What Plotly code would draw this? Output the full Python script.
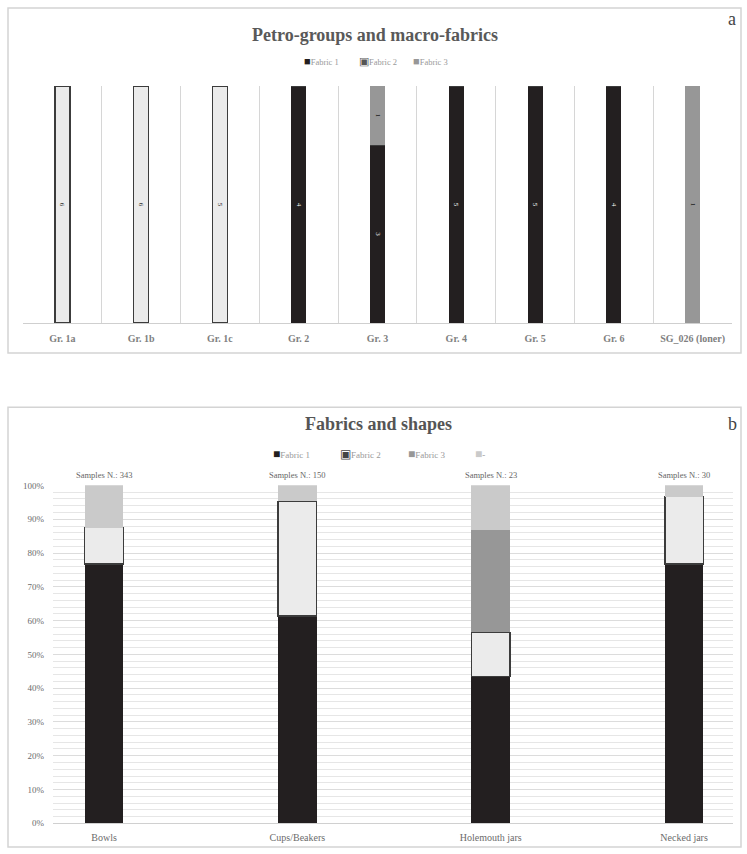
import plotly.graph_objects as go
from plotly.subplots import make_subplots

# ---------- Panel a data ----------
groups = ["Gr. 1a", "Gr. 1b", "Gr. 1c", "Gr. 2", "Gr. 3", "Gr. 4", "Gr. 5", "Gr. 6", "SG_026 (loner)"]
a_fabric1 = [0, 0, 0, 4, 3, 5, 5, 4, 0]
a_fabric2 = [6, 6, 5, 0, 0, 0, 0, 0, 0]
a_fabric3 = [0, 0, 0, 0, 1, 0, 0, 0, 1]

# ---------- Panel b data (percent) ----------
shapes_cat = ["Bowls", "Cups/Beakers", "Holemouth jars", "Necked jars"]
b_fabric1 = [76.7, 61.3, 43.5, 76.7]
b_fabric2 = [10.8, 34.0, 13.0, 20.0]
b_fabric3 = [0.0, 0.0, 30.4, 0.0]
b_none = [12.5, 4.7, 13.1, 3.3]
samples_n = [343, 150, 23, 30]
y_ticks = [0, 0.1, 0.2, 0.3, 0.4, 0.5, 0.6, 0.7, 0.8, 0.9, 1.0]

C1 = "#231f20"
C2 = "#ebebeb"
C2_LINE = "#3c3c3c"
C3 = "#979797"
CN = "#cacaca"
SERIF = "Liberation Serif"
GREY_TXT = "#6b6b6b"

W, H = 747, 854
fig = make_subplots(rows=2, cols=1)

xa = list(range(len(groups)))

def txt(vals):
    return [str(v) if v else "" for v in vals]

fig.add_trace(go.Bar(x=xa, y=a_fabric1, name="Fabric 1", marker=dict(color=C1, line=dict(width=0)),
                     text=txt(a_fabric1), texttemplate="%{text}", textposition="inside", insidetextanchor="middle",
                     textangle=90, textfont=dict(size=7, color="white", family=SERIF),
                     width=0.19), row=1, col=1)
fig.add_trace(go.Bar(x=xa, y=a_fabric2, name="Fabric 2", marker=dict(color=C2, line=dict(width=1.5, color=C2_LINE)),
                     text=txt(a_fabric2), texttemplate="%{text}", textposition="inside", insidetextanchor="middle",
                     textangle=90, textfont=dict(size=7, color="#222", family=SERIF),
                     width=0.19), row=1, col=1)
fig.add_trace(go.Bar(x=xa, y=a_fabric3, name="Fabric 3", marker=dict(color=C3, line=dict(width=0)),
                     text=txt(a_fabric3), texttemplate="%{text}", textposition="inside", insidetextanchor="middle",
                     textangle=90, textfont=dict(size=7, color="#222", family=SERIF),
                     width=0.19), row=1, col=1)

xb = list(range(len(shapes_cat)))
fig.add_trace(go.Bar(x=xb, y=b_fabric1, name="Fabric 1", marker=dict(color=C1, line=dict(width=0)),
                     width=0.2), row=2, col=1)
fig.add_trace(go.Bar(x=xb, y=b_fabric2, name="Fabric 2", marker=dict(color=C2, line=dict(width=1.5, color=C2_LINE)),
                     width=0.2), row=2, col=1)
fig.add_trace(go.Bar(x=xb, y=b_fabric3, name="Fabric 3", marker=dict(color=C3, line=dict(width=0)),
                     width=0.2), row=2, col=1)
fig.add_trace(go.Bar(x=xb, y=b_none, name="-", marker=dict(color=CN, line=dict(width=0)),
                     width=0.2), row=2, col=1)

def px_x(p):
    return p / W

def px_y(p):
    return 1 - p / H

fig.update_layout(
    width=W, height=H, barmode="stack", barnorm="fraction", showlegend=False,
    margin=dict(l=0, r=0, t=0, b=0),
    paper_bgcolor="white", plot_bgcolor="white",
    font=dict(family=SERIF, color=GREY_TXT),
    xaxis=dict(domain=[px_x(23), px_x(732)], range=[-0.5, len(groups) - 0.5],
               tickmode="array", tickvals=xa, ticktext=groups, showgrid=False,
               tickfont=dict(size=10, color="#808080", family=SERIF, weight="bold"),
               showline=True, linecolor="#cfcfcf", linewidth=1, ticks="", ticklabelstandoff=6,
               minor=dict(tickmode="linear", tick0=-0.5, dtick=1, showgrid=True, gridcolor="#d6d6d6", gridwidth=1),
               zeroline=False),
    yaxis=dict(domain=[px_y(322), px_y(82)], range=[0, 1], showticklabels=False, showgrid=False,
               zeroline=False, showline=False),
    xaxis2=dict(domain=[px_x(53), px_x(733)], range=[-0.264, 3.253],
                tickmode="array", tickvals=xb, ticktext=shapes_cat, showgrid=False,
                tickfont=dict(size=10, color="#6b6b6b", family=SERIF),
                showline=True, linecolor="#d0d0d0", ticks="", ticklabelstandoff=5, zeroline=False),
    yaxis2=dict(domain=[px_y(828), px_y(486)], range=[0, 1.0005], tickmode="array", tickvals=y_ticks,
                tickformat=".0%", tickfont=dict(size=9, color="#6b6b6b", family=SERIF),
                showgrid=True, gridcolor="#dcdcdc", gridwidth=1, zeroline=False, ticks="",
                minor=dict(dtick=0.02, tick0=0, showgrid=True, gridcolor="#e6e6e6", gridwidth=1),
                ticklabelstandoff=8),
)

annotations = [
    dict(text="<b>Petro-groups and macro-fabrics</b>", x=px_x(375), y=px_y(30), xref="paper", yref="paper",
         xanchor="center", yanchor="middle",
         showarrow=False, font=dict(size=18, color="#595959", family=SERIF)),
    dict(text="a", x=px_x(732), y=px_y(14), xref="paper", yref="paper", showarrow=False,
         xanchor="center", yanchor="middle",
         font=dict(size=18, color="#444", family=SERIF)),
    dict(text="<b>Fabrics and shapes</b>", x=px_x(378), y=px_y(424), xref="paper", yref="paper",
         xanchor="center", yanchor="middle",
         showarrow=False, font=dict(size=18, color="#555", family=SERIF)),
    dict(text="b", x=px_x(732), y=px_y(424), xref="paper", yref="paper", showarrow=False,
         xanchor="center", yanchor="middle",
         font=dict(size=18, color="#444", family=SERIF)),
]
for i, n in enumerate(samples_n):
    annotations.append(dict(text=f"Samples N.: {n}", x=xb[i], y=1, xref="x2", yref="y2",
                            xanchor="center", yanchor="bottom", yshift=3, showarrow=False,
                            font=dict(size=8.5, color="#666", family=SERIF)))

# compact legend entries, as in the original
legend_a = [("■", C1, "Fabric 1"), ("▣", "#555", "Fabric 2"), ("■", C3, "Fabric 3")]
legend_b = [("■", C1, "Fabric 1"), ("▣", "#444", "Fabric 2"), ("■", C3, "Fabric 3"), ("■", CN, "-")]
for i, (sym, col, name) in enumerate(legend_a):
    annotations.append(dict(text=f'<span style="color:{col};font-size:11px">{sym}</span>{name}',
                            x=px_x(302 + i * 54.5), y=px_y(57), xref="paper", yref="paper",
                            xanchor="left", yanchor="middle", showarrow=False,
                            font=dict(size=8.5, color="#999", family=SERIF)))
for i, (sym, col, name) in enumerate(legend_b):
    annotations.append(dict(text=f'<span style="color:{col};font-size:12px">{sym}</span>{name}',
                            x=px_x(271 + i * 67.3), y=px_y(454), xref="paper", yref="paper",
                            xanchor="left", yanchor="middle", showarrow=False,
                            font=dict(size=9, color="#999", family=SERIF)))
fig.update_layout(annotations=annotations)

fig.update_layout(shapes=[
    dict(type="rect", xref="paper", yref="paper", x0=px_x(8), x1=px_x(741), y0=px_y(352), y1=px_y(3),
         line=dict(color="#d4d4d4", width=1.5), fillcolor="rgba(0,0,0,0)", layer="below"),
    dict(type="rect", xref="paper", yref="paper", x0=px_x(8), x1=px_x(741), y0=px_y(852), y1=px_y(407),
         line=dict(color="#d4d4d4", width=1.5), fillcolor="rgba(0,0,0,0)", layer="below"),
])

fig.write_html("out.html", config={"displayModeBar": False},
               post_script="document.body.style.margin='0px';document.body.style.overflow='hidden';")
